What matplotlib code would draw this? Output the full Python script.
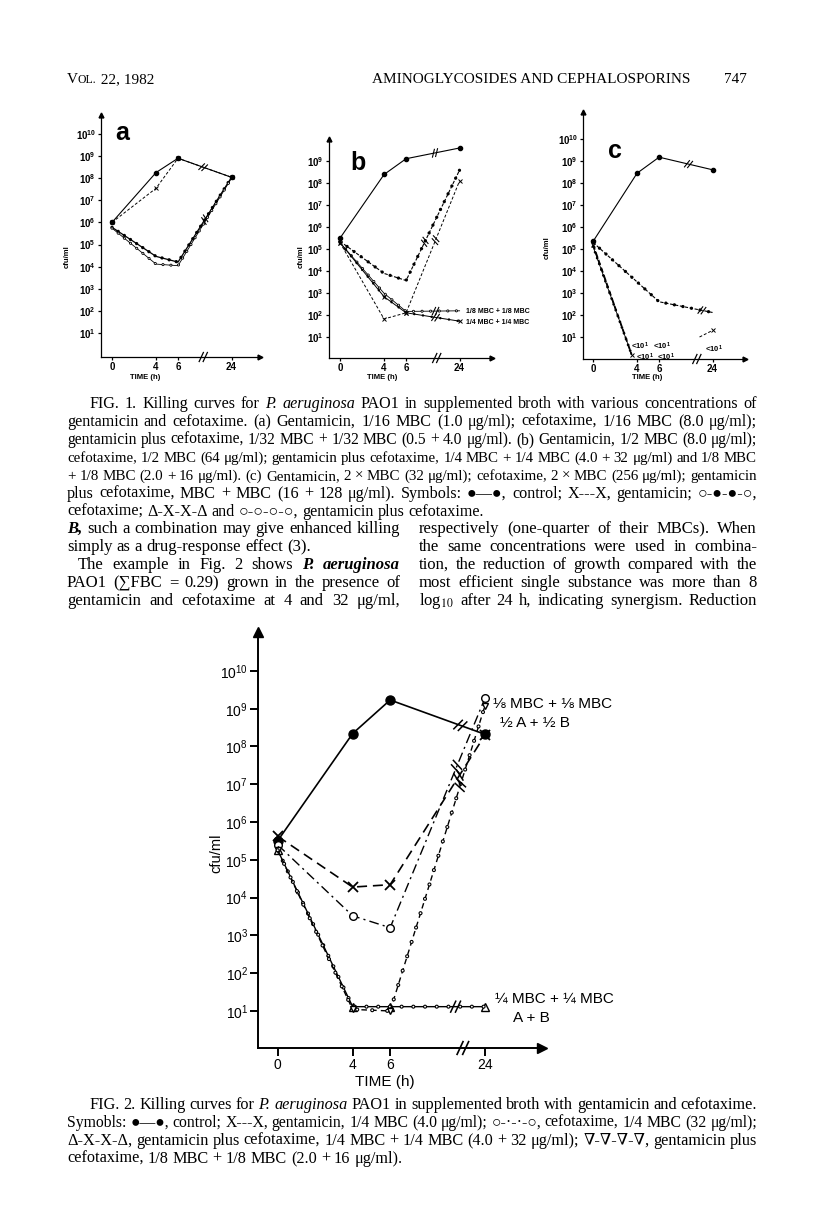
import numpy as np
import matplotlib
matplotlib.use('Agg')
import matplotlib.pyplot as plt
from matplotlib.lines import Line2D
from matplotlib.ticker import FixedLocator, FuncFormatter, NullLocator
from matplotlib.transforms import IdentityTransform

W, H = 816, 1222
SERIF = 'Liberation Serif'
SERIF_FB = ['Liberation Serif', 'DejaVu Serif']
SANS = 'Liberation Sans'
SANS_FB = ['Liberation Sans', 'DejaVu Sans']
NEED_FB = set('●○∇∑⅛')
plt.rcParams['font.family'] = SANS
plt.rcParams['mathtext.fontset'] = 'stix'

# sampling times (h)
time_h = [0, 4, 6, 24]

# Fig. 1a  (cfu/ml)
a_control = [1.0e6, 1.8e8, 8.0e8, 1.1e8]
a_genta = [1.0e6, 3.5e7, 8.0e8, 1.1e8]
a_cefo = [6.0e5, 2.9e4, 1.6e4, 1.1e8]
a_combo = [5.5e5, 1.3e4, 1.1e4, 1.0e8]

# Fig. 1b
b_control = [3.2e5, 2.5e8, 1.3e9, 4.0e9]
b_genta = [2.0e5, 6.8e1, 1.3e2, 1.3e8]
b_cefo = [2.3e5, 8.0e3, 3.8e3, 4.0e8]
b_combo8 = [2.0e5, 1.0e3, 1.5e2, 1.6e2]
b_combo4 = [2.0e5, 7.0e2, 1.3e2, 5.4e1]

# Fig. 1c
c_control = [2.2e5, 2.8e8, 1.5e9, 4.0e8]
c_cefo = [2.0e5, 3.2e3, 4.0e2, 1.3e2]
c_drop_t = [0, 3.5]
c_genta = [1.6e5, 1.6]
c_combo = [1.3e5, 1.6]
c_tail_t = [19.6, 24]
c_genta_tail = [1.0e1, 2.0e1]

# Fig. 2
f_control = [3.2e5, 2.2e8, 1.7e9, 2.1e8]
f_genta = [4.2e5, 1.9e4, 2.2e4, 2.0e8]
f_cefo = [2.5e5, 3.3e3, 1.6e3, 1.9e9]
f_combo4 = [1.8e5, 1.3e1, 1.3e1, 1.3e1]
f_combo8 = [1.8e5, 1.1e1, 1.0e1, 1.2e9]

# page text
header_mid = 'AMINOGLYCOSIDES AND CEPHALOSPORINS'
header_page = '747'

fig1_caption = [
    'FIG. 1. Killing curves for _P. _aeruginosa PAO1 in supplemented broth with various concentrations of',
    'gentamicin and cefotaxime. (a) Gentamicin, 1/16 MBC (1.0 μg/ml); cefotaxime, 1/16 MBC (8.0 μg/ml);',
    'gentamicin plus cefotaxime, 1/32 MBC + 1/32 MBC (0.5 + 4.0 μg/ml). (b) Gentamicin, 1/2 MBC (8.0 μg/ml);',
    'cefotaxime, 1/2 MBC (64 μg/ml); gentamicin plus cefotaxime, 1/4 MBC + 1/4 MBC (4.0 + 32 μg/ml) and 1/8 MBC',
    '+ 1/8 MBC (2.0 + 16 μg/ml). (c) Gentamicin, 2 × MBC (32 μg/ml); cefotaxime, 2 × MBC (256 μg/ml); gentamicin',
    'plus cefotaxime, MBC + MBC (16 + 128 μg/ml). Symbols: ●—●, control; X---X, gentamicin; ○-●-●-○,',
    'cefotaxime; Δ-X-X-Δ and ○-○-○-○, gentamicin plus cefotaxime.',
]
body_left = [
    '*_B, such a combination may give enhanced killing',
    'simply as a drug-response effect (3).',
    'The example in Fig. 2 shows *_P. *_aeruginosa',
    'PAO1 (∑FBC = 0.29) grown in the presence of',
    'gentamicin and cefotaxime at 4 and 32 μg/ml,',
]
body_right = [
    'respectively (one-quarter of their MBCs). When',
    'the same concentrations were used in combina-',
    'tion, the reduction of growth compared with the',
    'most efficient single substance was more than 8',
    'log$_{10}$ after 24 h, indicating synergism. Reduction',
]
fig2_caption = [
    'FIG. 2. Killing curves for _P. _aeruginosa PAO1 in supplemented broth with gentamicin and cefotaxime.',
    'Symobls: ●—●, control; X---X, gentamicin, 1/4 MBC (4.0 μg/ml); ○-·-·-○, cefotaxime, 1/4 MBC (32 μg/ml);',
    'Δ-X-X-Δ, gentamicin plus cefotaxime, 1/4 MBC + 1/4 MBC (4.0 + 32 μg/ml); ∇-∇-∇-∇, gentamicin plus',
    'cefotaxime, 1/8 MBC + 1/8 MBC (2.0 + 16 μg/ml).',
]

fig = plt.figure(figsize=(W / 100, H / 100), dpi=100)
fig.patch.set_facecolor('white')
renderer = fig.canvas.get_renderer()


def ftext(x, y, s, **kw):
    return fig.text(x / W, 1 - y / H, s, **kw)


def make_words(s, y, size):
    words = []
    for w in s.split():
        kw = dict(fontsize=size, va='baseline')
        while len(w) > 1 and w[0] in '*_':
            if w[0] == '*':
                kw['weight'] = 'bold'
            else:
                kw['style'] = 'italic'
            w = w[1:]
        kw['family'] = SERIF_FB if NEED_FB & set(w) else SERIF
        words.append(ftext(0, y, w, **kw))
    return words


def width(t):
    return t.get_window_extent(renderer).width


def text_block(lines, ys, x0s, x1, justify, size=12):
    # common size for the block; over-long lines are squeezed a little more
    rows = [make_words(s, y, size) for s, y in zip(lines, ys)]
    space = size * 100 / 72 * 0.25
    fits = [(x1 - x0) / (sum(width(t) for t in words) + space * (len(words) - 1))
            for words, x0 in zip(rows, x0s)]
    f_block = min(1.0, float(np.median([f for f, j in zip(fits, justify) if j])))
    for words, x0, just, f_line in zip(rows, x0s, justify, fits):
        f = min(f_block, f_line)
        for t in words:
            t.set_fontsize(size * f)
        widths = [width(t) for t in words]
        gap = (x1 - x0 - sum(widths)) / max(len(words) - 1, 1) if just else space * f
        x = x0
        for t, w in zip(words, widths):
            t.set_x(x / W)
            x += w + gap


def time_scale(k):
    def fwd(t):
        t = np.asarray(t, dtype=float)
        return np.where(t <= 6, t, 6 + (t - 6) * k)

    def inv(u):
        u = np.asarray(u, dtype=float)
        return np.where(u <= 6, u, 6 + (u - 6) / k)
    return fwd, inv


def chart(box, k, ulo, uhi, ylo, yhi, decades, fs, tick_len, lw, arrow_ms, weight):
    l, t, r, b = box
    ax = fig.add_axes([l / W, 1 - b / H, (r - l) / W, (b - t) / H])
    fwd, inv = time_scale(k)
    ax.set_xscale('function', functions=(fwd, inv))
    ax.set_yscale('log')
    ax.set_xlim(ulo, float(inv(uhi)))
    ax.set_ylim(10.0 ** ylo, 10.0 ** yhi)
    ax.patch.set_visible(False)
    ax.spines[['top', 'right']].set_visible(False)
    ax.spines[['left', 'bottom']].set_linewidth(lw)
    ax.xaxis.set_major_locator(FixedLocator(time_h))
    ax.xaxis.set_minor_locator(NullLocator())
    ax.yaxis.set_major_locator(FixedLocator([10.0 ** d for d in decades]))
    ax.yaxis.set_minor_locator(NullLocator())
    ax.xaxis.set_major_formatter(FuncFormatter(lambda v, p: '%d' % round(v)))
    ax.yaxis.set_major_formatter(FuncFormatter(
        lambda v, p: r'$\mathregular{10^{%d}}$' % round(np.log10(v))))
    ax.tick_params(length=tick_len, width=lw, labelsize=fs, pad=1.2, direction='out')
    for lab in ax.get_xticklabels() + ax.get_yticklabels():
        lab.set_fontweight(weight)
    ax.plot(0, 1, marker='^', ms=arrow_ms, color='k', transform=ax.transAxes, clip_on=False)
    ax.plot(1, 0, marker='>', ms=arrow_ms, color='k', transform=ax.transAxes, clip_on=False)
    return ax


def slashes(ax, p, d, size, lw):
    ang = np.arctan2(d[1], d[0]) + np.radians(65)
    m = np.array([np.cos(ang), np.sin(ang)])
    for s in (-size * 0.4, size * 0.4):
        c = p + d * s
        a, b = c - m * size, c + m * size
        ax.add_line(Line2D([a[0], b[0]], [a[1], b[1]], transform=IdentityTransform(),
                           color='k', lw=lw, clip_on=False))


def line_break(ax, ts, vs, frac, size, lw=0.8):
    p0 = ax.transData.transform((ts[-2], vs[-2]))
    p1 = ax.transData.transform((ts[-1], vs[-1]))
    d = (p1 - p0) / np.hypot(*(p1 - p0))
    slashes(ax, p0 + (p1 - p0) * frac, d, size, lw)


def axis_break(ax, t, size, lw=0.9):
    p = ax.transData.transform((t, ax.get_ylim()[0]))
    slashes(ax, p, np.array([1.0, 0.0]), size, lw)


def dotted(ax, ts, vs, lw=2.6, gap=2.2, ring=False):
    ax.plot(ts, vs, color='k', lw=lw, ls=(0, (0.01, gap)), dash_capstyle='round')
    if ring:
        lw2 = lw * 0.45
        ax.plot(ts, vs, color='w', lw=lw2, ls=(0, (0.01 * lw / lw2, gap * lw / lw2)),
                dash_capstyle='round')


# ---------------- header (small caps "Vol.") ----------------
x = 67
for piece, fs in [('V', 11), ('OL.', 8.5), (' 22, 1982', 11)]:
    t = ftext(x, 83, piece, family=SERIF, fontsize=fs, va='baseline')
    x += width(t)
ftext(372, 83, header_mid, family=SERIF, fontsize=11, va='baseline')
ftext(747, 83, header_page, family=SERIF, fontsize=11, va='baseline', ha='right')

# ---------------- Fig. 1a ----------------
ax = chart((101, 115, 260, 357), 0.27, -1.0, 13.45, -0.09, 10.86, range(1, 11),
           7, 2.5, 0.9, 3.5, 'bold')
ax.plot(time_h, a_control, 'k-', lw=0.8, marker='o', ms=3)
ax.plot(time_h, a_genta, 'k-', lw=0.7, dashes=(3, 2), marker='x', ms=2.5, mew=0.7)
ax.plot(time_h, a_cefo, 'k-', lw=0.9)
dotted(ax, time_h, a_cefo, lw=2.4)
ax.plot(time_h, a_combo, 'k-', lw=0.6)
dotted(ax, time_h, a_combo, lw=2.2, gap=2.6, ring=True)
line_break(ax, time_h, a_control, 0.47, 4)
line_break(ax, time_h, a_cefo, 0.5, 4)
axis_break(ax, 14.5, 5)
ftext(122, 140, 'a', fontsize=18, weight='bold', ha='center')
ftext(67, 257, 'cfu/ml', fontsize=5.5, weight='bold', rotation=90, ha='center', va='center')
ftext(145, 377, 'TIME (h)', fontsize=5.5, weight='bold', ha='center', va='center')

# ---------------- Fig. 1b ----------------
ax = chart((329, 139, 492, 358), 0.27, -1.0, 13.8, 0.06, 10.01, range(1, 10),
           7, 2.5, 0.9, 3.5, 'bold')
ax.plot(time_h, b_control, 'k-', lw=0.8, marker='o', ms=3)
ax.plot(time_h, b_genta, 'k-', lw=0.7, dashes=(3, 2), marker='x', ms=2.5, mew=0.7)
ax.plot(time_h, b_cefo, 'k-', lw=0.8, dashes=(3, 1.5))
dotted(ax, time_h, b_cefo, lw=2.4, gap=2.6)
ax.plot(time_h, b_combo8, 'k-', lw=0.6)
dotted(ax, time_h, b_combo8, lw=2.2, gap=2.8, ring=True)
ax.plot(time_h, b_combo4, 'k-', lw=0.7, marker='x', ms=2.5, mew=0.7)
dotted(ax, time_h, b_combo4, lw=1.8, gap=3.5)
line_break(ax, time_h, b_control, 0.54, 4)
line_break(ax, time_h, b_cefo, 0.35, 4)
line_break(ax, time_h, b_genta, 0.55, 4)
line_break(ax, time_h, b_combo8, 0.55, 4)
line_break(ax, time_h, b_combo4, 0.55, 4)
axis_break(ax, 16.3, 5)
ftext(358, 170, 'b', fontsize=18, weight='bold', ha='center')
ftext(466, 312, '1/8 MBC + 1/8 MBC', fontsize=5, weight='bold', va='center')
ftext(466, 323, '1/4 MBC + 1/4 MBC', fontsize=5, weight='bold', va='center')
ftext(301, 257, 'cfu/ml', fontsize=5.5, weight='bold', rotation=90, ha='center', va='center')
ftext(382, 377, 'TIME (h)', fontsize=5.5, weight='bold', ha='center', va='center')

# ---------------- Fig. 1c ----------------
ax = chart((583, 112, 745, 359), 0.27, -0.91, 13.8, 0.0, 11.23, range(1, 11),
           7, 2.5, 0.9, 3.5, 'bold')
ax.plot(time_h, c_control, 'k-', lw=0.8, marker='o', ms=3)
ax.plot(time_h, c_cefo, 'k-', lw=0.8, dashes=(3, 1.5))
dotted(ax, time_h, c_cefo, lw=2.4, gap=2.6)
ax.plot(c_drop_t, c_genta, 'k-', lw=1.3, dashes=(3, 1.5), marker='x', ms=2.5, mew=0.7)
ax.plot(c_drop_t, c_combo, 'k-', lw=0.6)
dotted(ax, c_drop_t, c_combo, lw=2.0, gap=2.2)
ax.plot(c_tail_t, c_genta_tail, 'k-', lw=0.7, dashes=(3, 2), marker='x', ms=2.5, mew=0.7,
        markevery=[1])
line_break(ax, time_h, c_control, 0.55, 4)
line_break(ax, time_h, c_cefo, 0.8, 4)
axis_break(ax, 18.7, 5)
ftext(615, 158, 'c', fontsize=18, weight='bold', ha='center')
for x, y in [(631, 346), (653, 346), (636, 357), (657, 357), (705, 349)]:
    ftext(x, y, r'<$\mathregular{10^1}$', fontsize=5.5, weight='bold', va='center')
ftext(547, 248, 'cfu/ml', fontsize=5.5, weight='bold', rotation=90, ha='center', va='center')
ftext(647, 377, 'TIME (h)', fontsize=5.5, weight='bold', ha='center', va='center')

# ---------------- captions / body ----------------
n = len(fig1_caption)
text_block(fig1_caption, [408, 426, 444, 462, 480, 498, 516],
           [89] + [67] * (n - 1), 757, [True] * (n - 1) + [False])

body_y = [533, 551, 569, 587, 605]
text_block(body_left, body_y, [67, 67, 78, 67, 67], 400, [True, False, True, True, True])
text_block(body_right, body_y, [419] * 5, 757, [True] * 5)

# ---------------- Fig. 2 ----------------
ax = chart((258, 632, 542, 1048), 0.281, -1.05, 14.1, 0.02, 11.03, range(1, 11),
           10, 6, 1.4, 7, 'normal')
ax.plot(time_h, f_control, 'k-', lw=1.2, marker='o', ms=6.5)
ax.plot(time_h, f_genta, 'k-', lw=1.2, dashes=(6, 3.5), marker='x', ms=7, mew=1.3)
ax.plot(time_h, f_cefo, 'k-', lw=1.0, dashes=(7, 3, 1.5, 3), marker='o', ms=5.5,
        mfc='white', mew=1.0)
ax.plot(time_h, f_combo4, 'k-', lw=1.0, marker='^', ms=5.5, mfc='white', mew=1.0)
dotted(ax, time_h, f_combo4, lw=3.0, gap=2.8, ring=True)
ax.plot(time_h, f_combo8, 'k-', lw=1.0, dashes=(4, 3), marker='v', ms=5, mfc='white', mew=1.0)
dotted(ax, time_h, f_combo8, lw=3.0, gap=3.6, ring=True)
line_break(ax, time_h, f_control, 0.74, 6, 1.1)
line_break(ax, time_h, f_genta, 0.72, 6, 1.1)
line_break(ax, time_h, f_cefo, 0.7, 6, 1.1)
line_break(ax, time_h, f_combo8, 0.74, 6, 1.1)
line_break(ax, time_h, f_combo4, 0.69, 6, 1.1)
axis_break(ax, 19.8, 7, 1.2)
ftext(493, 708, '⅛ MBC + ⅛ MBC', fontsize=11, va='baseline', family=SANS_FB)
ftext(500, 727, '½ A + ½ B', fontsize=11, va='baseline')
ftext(495, 1003, '¼ MBC + ¼ MBC', fontsize=11, va='baseline')
ftext(531, 1022, 'A + B', fontsize=11, va='baseline', ha='center')
ftext(216, 853, 'cfu/ml', fontsize=10.5, rotation=90, ha='center', va='center')
ftext(385, 1082, 'TIME (h)', fontsize=11, ha='center', va='center')

n = len(fig2_caption)
text_block(fig2_caption, [1109, 1127, 1145, 1163], [89] + [67] * (n - 1), 757,
           [True] * (n - 1) + [False])

fig.savefig('out.png', dpi=100, facecolor='white')
